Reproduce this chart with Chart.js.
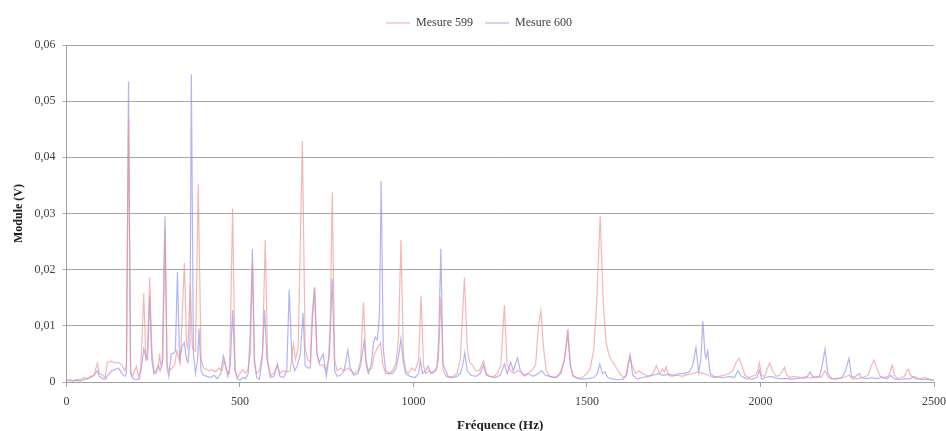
<!DOCTYPE html>
<html>
<head>
<meta charset="utf-8">
<script src="https://cdn.jsdelivr.net/npm/chart.js@4.4.1/dist/chart.umd.min.js"></script>
<style>
  html, body { margin: 0; padding: 0; background: #fff; }
  #wrap { width: 946px; height: 431px; }
</style>
</head>
<body>
<div id="wrap"><canvas id="c" width="946" height="431"></canvas></div>
<script>
const seriesNames = ["Mesure 599", "Mesure 600"];
const xTitle = "Fréquence (Hz)";
const yTitle = "Module (V)";

const freq599 = [0,10,20,30,40,50,60,70,80,89,95,105,112,118,130,140,150,160,168,173,179,185,190,202,207,214,223,229,234,240,246,252,258,265,268,272,278,284,290,296,305,312,318,328,340,346,350,357,363,372,380,388,395,410,420,430,440,448,455,462,470,479,486,493,500,508,516,522,530,536,542,548,556,565,573,580,588,598,608,615,625,635,645,654,660,668,680,688,695,703,708,715,722,730,740,748,755,760,766,773,780,790,800,811,820,830,840,848,856,863,870,880,888,896,905,912,920,930,940,950,957,964,971,978,985,995,1005,1015,1022,1029,1036,1045,1055,1065,1072,1079,1086,1095,1105,1115,1125,1135,1147,1155,1162,1170,1180,1190,1202,1210,1220,1232,1242,1252,1262,1270,1280,1290,1300,1310,1320,1330,1340,1352,1360,1367,1375,1383,1393,1405,1415,1425,1435,1445,1452,1460,1470,1480,1490,1500,1510,1520,1528,1538,1547,1555,1565,1575,1585,1595,1605,1612,1618,1624,1630,1640,1650,1660,1670,1680,1690,1700,1710,1718,1723,1728,1735,1745,1760,1775,1790,1805,1820,1835,1850,1865,1880,1895,1910,1920,1930,1938,1946,1955,1965,1975,1985,1992,1997,2003,2012,2020,2027,2035,2045,2055,2062,2069,2076,2085,2095,2105,2115,2125,2135,2145,2155,2165,2175,2186,2195,2210,2225,2240,2255,2265,2280,2295,2310,2320,2327,2335,2345,2358,2368,2375,2380,2386,2395,2405,2415,2421,2426,2432,2445,2460,2475,2485,2500];
const value599 = [0.0003,0.0004,0.0002,0.0005,0.0003,0.0008,0.0006,0.0010,0.0012,0.0033,0.0015,0.0012,0.0008,0.0035,0.0037,0.0034,0.0035,0.0030,0.0020,0.0030,0.0470,0.0020,0.0010,0.0028,0.0010,0.0020,0.0158,0.0037,0.0060,0.0186,0.0060,0.0020,0.0015,0.0025,0.0050,0.0030,0.0040,0.0273,0.0030,0.0020,0.0025,0.0030,0.0055,0.0033,0.0212,0.0070,0.0060,0.0175,0.0060,0.0055,0.0352,0.0040,0.0025,0.0020,0.0022,0.0018,0.0025,0.0020,0.0040,0.0020,0.0015,0.0309,0.0020,0.0008,0.0015,0.0022,0.0015,0.0020,0.0050,0.0210,0.0030,0.0015,0.0020,0.0050,0.0253,0.0040,0.0012,0.0015,0.0030,0.0015,0.0020,0.0018,0.0020,0.0068,0.0040,0.0060,0.0429,0.0060,0.0040,0.0035,0.0120,0.0168,0.0050,0.0030,0.0030,0.0020,0.0040,0.0100,0.0338,0.0040,0.0020,0.0025,0.0020,0.0025,0.0020,0.0015,0.0020,0.0040,0.0142,0.0040,0.0020,0.0025,0.0050,0.0060,0.0070,0.0030,0.0015,0.0015,0.0020,0.0035,0.0080,0.0253,0.0050,0.0020,0.0015,0.0025,0.0020,0.0040,0.0154,0.0030,0.0015,0.0020,0.0015,0.0020,0.0040,0.0151,0.0020,0.0010,0.0008,0.0010,0.0015,0.0040,0.0186,0.0060,0.0035,0.0030,0.0020,0.0020,0.0038,0.0015,0.0010,0.0010,0.0015,0.0030,0.0137,0.0030,0.0020,0.0015,0.0020,0.0018,0.0010,0.0015,0.0020,0.0030,0.0100,0.0127,0.0060,0.0020,0.0010,0.0008,0.0010,0.0020,0.0040,0.0094,0.0030,0.0012,0.0008,0.0006,0.0010,0.0015,0.0025,0.0060,0.0140,0.0296,0.0140,0.0070,0.0045,0.0035,0.0025,0.0015,0.0008,0.0010,0.0030,0.0045,0.0030,0.0015,0.0020,0.0015,0.0012,0.0010,0.0015,0.0029,0.0015,0.0023,0.0018,0.0027,0.0012,0.0010,0.0012,0.0010,0.0013,0.0015,0.0018,0.0015,0.0012,0.0008,0.0010,0.0012,0.0015,0.0020,0.0035,0.0042,0.0030,0.0012,0.0008,0.0010,0.0012,0.0020,0.0034,0.0012,0.0010,0.0025,0.0034,0.0020,0.0010,0.0012,0.0018,0.0026,0.0012,0.0008,0.0010,0.0009,0.0008,0.0006,0.0008,0.0007,0.0008,0.0010,0.0008,0.0020,0.0008,0.0006,0.0007,0.0008,0.0012,0.0006,0.0006,0.0008,0.0012,0.0030,0.0039,0.0025,0.0010,0.0008,0.0010,0.0020,0.0030,0.0012,0.0006,0.0008,0.0010,0.0020,0.0023,0.0012,0.0006,0.0005,0.0008,0.0004,0.0003];

const freq600 = [0,10,20,30,40,50,60,70,80,89,95,105,112,120,130,140,150,160,168,173,179,185,192,200,210,217,223,229,234,240,246,252,258,265,270,276,284,290,295,302,310,314,320,326,334,340,346,350,356,360,366,372,378,382,388,395,405,415,425,435,445,452,458,465,472,479,486,493,500,508,516,524,530,536,542,548,556,564,571,578,588,598,608,615,625,635,642,650,658,666,674,682,688,695,703,708,715,722,728,740,749,758,766,773,780,790,800,811,818,828,840,848,858,864,870,878,885,890,896,902,907,913,920,930,940,950,958,964,971,978,990,1005,1015,1020,1026,1035,1042,1050,1060,1068,1073,1079,1085,1090,1100,1112,1125,1135,1142,1148,1155,1165,1180,1192,1202,1210,1220,1235,1250,1262,1270,1280,1288,1300,1308,1318,1330,1345,1360,1370,1380,1395,1410,1425,1435,1445,1452,1460,1475,1490,1505,1520,1530,1537,1545,1552,1560,1575,1590,1605,1615,1624,1632,1645,1660,1675,1690,1705,1720,1735,1750,1765,1780,1795,1805,1814,1822,1828,1834,1840,1843,1848,1855,1865,1880,1895,1910,1925,1935,1945,1960,1975,1990,1997,2003,2015,2030,2045,2060,2075,2090,2105,2120,2135,2143,2150,2160,2170,2178,2186,2194,2205,2220,2235,2245,2255,2262,2270,2284,2290,2305,2320,2335,2350,2365,2375,2385,2400,2415,2430,2442,2455,2470,2485,2500];
const value600 = [0.0002,0.0003,0.0002,0.0003,0.0002,0.0004,0.0006,0.0008,0.0012,0.0020,0.0010,0.0006,0.0005,0.0012,0.0020,0.0022,0.0025,0.0015,0.0010,0.0015,0.0535,0.0015,0.0006,0.0004,0.0005,0.0030,0.0059,0.0045,0.0040,0.0153,0.0040,0.0015,0.0020,0.0030,0.0020,0.0030,0.0295,0.0025,0.0010,0.0050,0.0052,0.0055,0.0196,0.0040,0.0065,0.0070,0.0040,0.0035,0.0070,0.0548,0.0050,0.0015,0.0040,0.0095,0.0020,0.0012,0.0010,0.0008,0.0012,0.0006,0.0015,0.0046,0.0030,0.0010,0.0030,0.0128,0.0020,0.0005,0.0003,0.0008,0.0006,0.0015,0.0090,0.0237,0.0040,0.0008,0.0005,0.0040,0.0128,0.0040,0.0008,0.0010,0.0032,0.0010,0.0008,0.0020,0.0164,0.0040,0.0020,0.0030,0.0050,0.0123,0.0030,0.0025,0.0025,0.0100,0.0168,0.0050,0.0035,0.0050,0.0010,0.0050,0.0184,0.0020,0.0010,0.0012,0.0020,0.0057,0.0025,0.0012,0.0015,0.0030,0.0073,0.0030,0.0015,0.0030,0.0070,0.0080,0.0075,0.0120,0.0358,0.0060,0.0020,0.0015,0.0015,0.0025,0.0050,0.0077,0.0035,0.0015,0.0010,0.0008,0.0015,0.0039,0.0015,0.0020,0.0028,0.0015,0.0020,0.0025,0.0080,0.0237,0.0030,0.0025,0.0010,0.0008,0.0010,0.0015,0.0030,0.0052,0.0020,0.0012,0.0010,0.0015,0.0030,0.0012,0.0010,0.0008,0.0012,0.0032,0.0015,0.0035,0.0020,0.0043,0.0020,0.0012,0.0015,0.0010,0.0015,0.0020,0.0012,0.0010,0.0008,0.0015,0.0040,0.0086,0.0030,0.0010,0.0006,0.0005,0.0006,0.0008,0.0015,0.0032,0.0015,0.0018,0.0008,0.0005,0.0004,0.0005,0.0015,0.0049,0.0012,0.0005,0.0008,0.0010,0.0012,0.0015,0.0012,0.0014,0.0012,0.0015,0.0015,0.0018,0.0030,0.0061,0.0017,0.0040,0.0108,0.0050,0.0042,0.0055,0.0015,0.0010,0.0008,0.0008,0.0010,0.0008,0.0020,0.0010,0.0006,0.0005,0.0008,0.0021,0.0005,0.0008,0.0010,0.0007,0.0006,0.0006,0.0005,0.0006,0.0008,0.0010,0.0018,0.0010,0.0008,0.0010,0.0030,0.0058,0.0015,0.0006,0.0005,0.0008,0.0020,0.0042,0.0010,0.0008,0.0015,0.0008,0.0006,0.0008,0.0006,0.0008,0.0006,0.0012,0.0006,0.0004,0.0006,0.0005,0.0010,0.0006,0.0004,0.0005,0.0003];

const yTicks = [0, 0.01, 0.02, 0.03, 0.04, 0.05, 0.06];
const xTicks = [0, 500, 1000, 1500, 2000, 2500];

function pairs(fs, vs) { return fs.map((f, i) => ({ x: f, y: vs[i] })); }

const serif = "'Liberation Serif', 'DejaVu Serif', serif";
Chart.defaults.font.family = serif;
Chart.defaults.color = '#404040';

const legendMargin = {
  id: 'legendMargin',
  beforeInit(chart) {
    const orig = chart.legend.fit;
    chart.legend.fit = function () { orig.bind(chart.legend)(); this.height += 6; };
  }
};

new Chart(document.getElementById('c'), {
  type: 'line',
  plugins: [legendMargin],
  data: {
    datasets: [
      { label: seriesNames[0], data: pairs(freq599, value599), borderColor: 'rgba(238,145,145,0.65)', backgroundColor: 'rgba(238,145,145,0.65)', borderWidth: 1.2, pointRadius: 0, tension: 0, fill: false },
      { label: seriesNames[1], data: pairs(freq600, value600), borderColor: 'rgba(140,140,235,0.65)', backgroundColor: 'rgba(140,140,235,0.65)', borderWidth: 1.2, pointRadius: 0, tension: 0, fill: false }
    ]
  },
  options: {
    responsive: false,
    animation: false,
    layout: { padding: { left: 12, right: 0, top: 5, bottom: -2 } },
    plugins: {
      tooltip: { enabled: false },
      legend: {
        position: 'top',
        labels: {
          usePointStyle: true, pointStyle: 'line', pointStyleWidth: 24,
          font: { size: 12, family: serif }, color: '#404040', padding: 12, boxHeight: 12
        }
      }
    },
    scales: {
      x: {
        type: 'linear', min: 0, max: 2500,
        afterBuildTicks: (s) => { s.ticks = xTicks.map(v => ({ value: v })); },
        afterFit: (s) => { s.paddingRight = 12; },
        ticks: { font: { size: 12, family: serif }, color: '#404040', maxRotation: 0, padding: 8,
          callback: (v) => String(v) },
        grid: { drawOnChartArea: false, drawTicks: true, tickLength: 5, color: '#a0a0a0' },
        border: { color: '#a0a0a0' },
        title: { display: true, text: xTitle, font: { size: 13, weight: 'bold', family: serif }, color: '#202020', padding: { top: 0, bottom: 0 } }
      },
      y: {
        min: 0, max: 0.06,
        afterBuildTicks: (s) => { s.ticks = yTicks.map(v => ({ value: v })); },
        ticks: { font: { size: 12, family: serif }, color: '#404040', padding: 7,
          callback: (v) => v === 0 ? '0' : v.toFixed(2).replace('.', ',') },
        grid: { color: '#a8a8a8', lineWidth: 1, tickLength: 4 },
        border: { color: '#a0a0a0' },
        title: { display: true, text: yTitle, font: { size: 12, weight: 'bold', family: serif }, color: '#202020', padding: { top: 0, bottom: 1 } }
      }
    }
  }
});
</script>
</body>
</html>
